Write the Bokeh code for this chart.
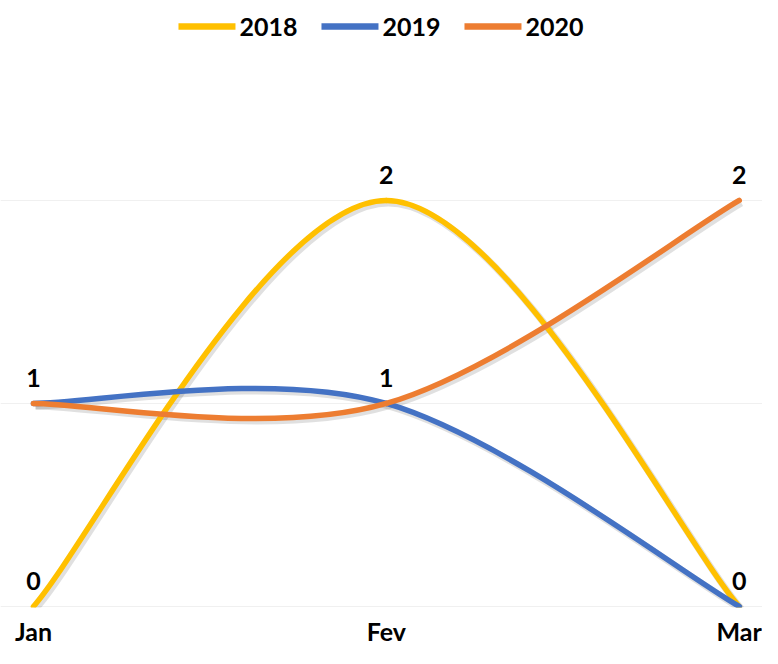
from bokeh.plotting import figure
from bokeh.models import (ColumnDataSource, FixedTicker, Legend, LegendItem, Range1d)
from bokeh.embed import file_html
from bokeh.resources import INLINE

months = ["Jan", "Fev", "Mar"]
x_pos = [0, 1, 2]
series_names = ["2018", "2019", "2020"]
values_2018 = [0, 2, 0]
values_2019 = [1, 1, 0]
values_2020 = [1, 1, 2]
series_values = [values_2018, values_2019, values_2020]
colors = ["#FFC000", "#4472C4", "#ED7D31"]

FONT = "Lato"

p = figure(width=762, height=648, output_backend="svg", toolbar_location=None,
           x_range=Range1d(-0.0934, 2.0660), y_range=Range1d(-0.005, 2.985),
           min_border_left=0, min_border_right=0, min_border_top=0, min_border_bottom=0)
p.outline_line_color = None
p.background_fill_color = "white"
p.border_fill_color = "white"


def smooth_segments(xs, ys):
    """Excel-like smoothing: cubic Bezier control points (Catmull-Rom, tension 1/6)."""
    n = len(xs)
    seg = dict(x0=[], y0=[], x1=[], y1=[], cx0=[], cy0=[], cx1=[], cy1=[])
    for i in range(n - 1):
        p0 = (xs[max(i - 1, 0)], ys[max(i - 1, 0)])
        p1 = (xs[i], ys[i])
        p2 = (xs[i + 1], ys[i + 1])
        p3 = (xs[min(i + 2, n - 1)], ys[min(i + 2, n - 1)])
        seg["x0"].append(p1[0]); seg["y0"].append(p1[1])
        seg["x1"].append(p2[0]); seg["y1"].append(p2[1])
        seg["cx0"].append(p1[0] + (p2[0] - p0[0]) / 6)
        seg["cy0"].append(p1[1] + (p2[1] - p0[1]) / 6)
        seg["cx1"].append(p2[0] - (p3[0] - p1[0]) / 6)
        seg["cy1"].append(p2[1] - (p3[1] - p1[1]) / 6)
    return seg


# soft shadows
for vals in series_values:
    seg = smooth_segments(x_pos, vals)
    sh = {k: [v + (0.006 if k.startswith(("x", "cx")) else -0.012) for v in vv]
          for k, vv in seg.items()}
    p.bezier(x0="x0", y0="y0", x1="x1", y1="y1", cx0="cx0", cy0="cy0", cx1="cx1", cy1="cy1",
             source=ColumnDataSource(sh), line_color="black", line_alpha=0.12, line_width=7)

legend_items = []
for name, vals, col in zip(series_names, series_values, colors):
    seg = smooth_segments(x_pos, vals)
    p.bezier(x0="x0", y0="y0", x1="x1", y1="y1", cx0="cx0", cy0="cy0", cx1="cx1", cy1="cy1",
             source=ColumnDataSource(seg), line_color=col, line_width=5.5, line_cap="round")
    dummy = p.line(x=[float("nan")], y=[float("nan")], line_color=col, line_width=6.5,
                   line_cap="round")
    legend_items.append(LegendItem(label=name, renderers=[dummy]))

# data labels (one per distinct point)
lab_x, lab_y, lab_t = [], [], []
seen = set()
for vals in series_values:
    for xv, yv in zip(x_pos, vals):
        if (xv, yv) not in seen:
            seen.add((xv, yv))
            lab_x.append(xv); lab_y.append(yv); lab_t.append(str(yv))
p.text(x=lab_x, y=lab_y, text=lab_t, text_align="center", text_baseline="alphabetic",
       y_offset=-25, text_font_size="25px", text_font_style="bold", text_color="black",
       text_font={"value": FONT})

legend = Legend(items=legend_items, orientation="horizontal", location="top_center",
                glyph_width=57, glyph_height=20, label_standoff=4, spacing=24,
                padding=0, margin=11, border_line_color=None, background_fill_alpha=0,
                label_text_font=FONT, label_text_font_size="25px",
                label_text_font_style="bold", label_text_color="black")
p.add_layout(legend, "center")

p.xaxis.ticker = FixedTicker(ticks=x_pos)
p.xaxis.major_label_overrides = {x: m for x, m in zip(x_pos, months)}
p.xaxis.axis_line_color = None
p.xaxis.major_tick_line_color = None
p.xaxis.minor_tick_line_color = None
p.xaxis.major_tick_in = 0
p.xaxis.major_tick_out = 0
p.xaxis.major_label_standoff = 8
p.xaxis.major_label_text_font = FONT
p.xaxis.major_label_text_font_size = "25px"
p.xaxis.major_label_text_font_style = "bold"
p.xaxis.major_label_text_color = "black"
p.yaxis.visible = False
p.xgrid.grid_line_color = None
p.ygrid.ticker = FixedTicker(ticks=[0, 1, 2])
p.ygrid.grid_line_color = "#f0f0f0"

open("out.html", "w").write(file_html(p, INLINE))
